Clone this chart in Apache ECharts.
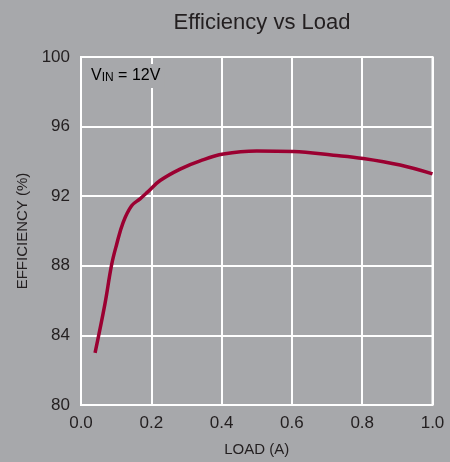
<!DOCTYPE html>
<html>
<head>
<meta charset="utf-8">
<script src="https://cdn.jsdelivr.net/npm/echarts@6/dist/echarts.min.js"></script>
<style>html,body{margin:0;padding:0;background:#a7a8ab;}#c{width:450px;height:462px;}</style>
</head>
<body>
<div id="c"></div>
<script>
var loadA = [0.040, 0.068, 0.087, 0.101, 0.120, 0.144, 0.168, 0.190, 0.225, 0.282, 0.339, 0.405, 0.500, 0.604, 0.718, 0.803, 0.908, 1.000];
var efficiency = [83.0, 85.8, 88.05, 89.2, 90.5, 91.45, 91.85, 92.25, 92.9, 93.56, 94.03, 94.42, 94.6, 94.57, 94.36, 94.17, 93.79, 93.28];
var xTicks = [0, 0.2, 0.4, 0.6, 0.8, 1.0];
var yTicks = [80, 84, 88, 92, 96, 100];

var chart = echarts.init(document.getElementById('c'));
var font = "'Liberation Sans Narrow', 'Liberation Sans', Arial, sans-serif";
chart.setOption({
  backgroundColor: '#a7a8ab',
  animation: false,
  title: {
    text: 'Efficiency vs Load',
    left: 257, top: 7, textAlign: 'center',
    textStyle: {fontFamily: "'Liberation Sans', Arial, sans-serif", fontSize: 22, fontWeight: 'normal', color: '#231f20'}
  },
  grid: {left: 81, right: 17.5, top: 57, bottom: 54, show: true, borderColor: '#ffffff', borderWidth: 2, backgroundColor: 'transparent'},
  xAxis: {
    type: 'value', min: 0, max: 1, interval: 0.2,
    name: 'LOAD (A)', nameLocation: 'middle', nameGap: 37,
    nameTextStyle: {fontFamily: font, fontSize: 15, color: '#231f20'},
    axisLine: {show: false}, axisTick: {show: false},
    axisLabel: {fontFamily: font, fontSize: 17, color: '#231f20', margin: 10,
      formatter: function (v) { return v.toFixed(1); }},
    splitLine: {show: true, lineStyle: {color: '#ffffff', width: 2}}
  },
  yAxis: {
    type: 'value', min: 80, max: 100, interval: 4,
    name: 'EFFICIENCY (%)', nameLocation: 'middle', nameGap: 46,
    nameTextStyle: {fontFamily: font, fontSize: 15, color: '#231f20'},
    axisLine: {show: false}, axisTick: {show: false},
    axisLabel: {fontFamily: font, fontSize: 17, color: '#231f20', margin: 11},
    splitLine: {show: true, lineStyle: {color: '#ffffff', width: 2}}
  },
  series: [{
    type: 'line', smooth: 0.4, symbol: 'none',
    data: loadA.map(function (x, i) { return [x, efficiency[i]]; }),
    lineStyle: {color: '#9b0031', width: 3.5}
  }],
  graphic: [{
    type: 'text', left: 89, top: 64, z: 100,
    style: {
      text: '{v|V}{s|IN}{v| = 12V}',
      backgroundColor: '#a7a8ab',
      padding: [2, 4, 4, 2],
      rich: {
        v: {fontFamily: font, fontSize: 16, color: '#231f20', verticalAlign: 'bottom'},
        s: {fontFamily: font, fontSize: 12, color: '#231f20', padding: [6, 0, 0, 0], verticalAlign: 'bottom'}
      }
    }
  }]
});
</script>
</body>
</html>
